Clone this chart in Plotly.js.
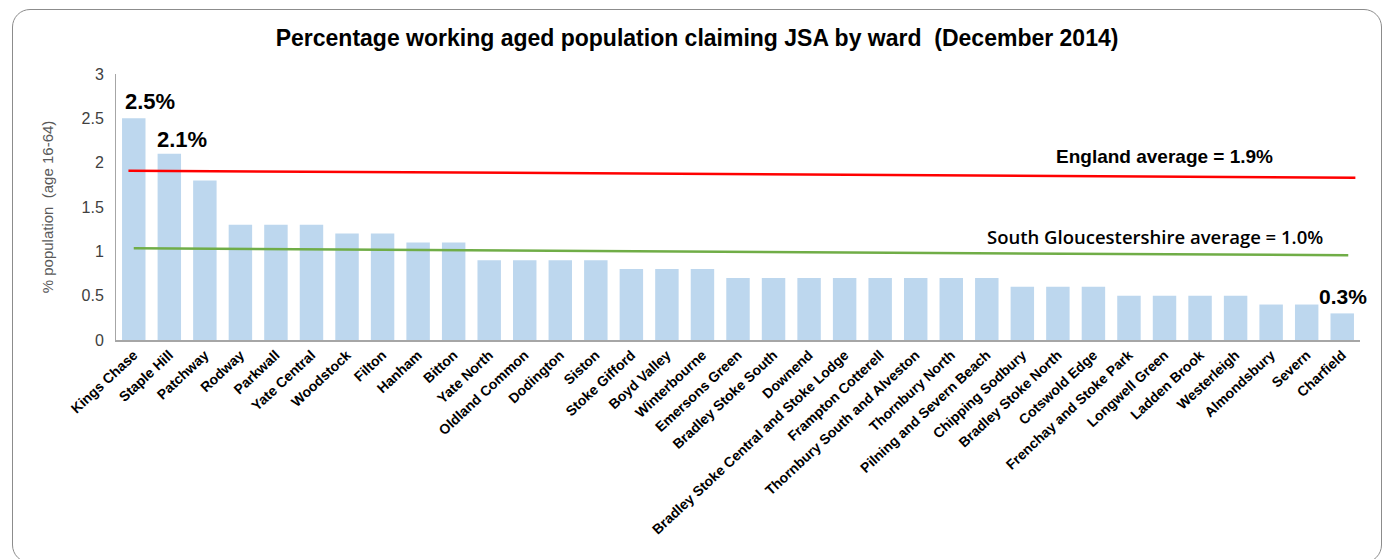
<!DOCTYPE html>
<html>
<head>
<meta charset="utf-8">
<script src="https://cdn.plot.ly/plotly-3.0.1.min.js"></script>
<style>
  html, body { margin: 0; padding: 0; background: #fff; }
  #wrap { position: relative; width: 1383px; height: 559px; overflow: hidden; }
  #chart { position: absolute; left: 0; top: 0; width: 1383px; height: 559px; }
  #frame { position: absolute; left: 12px; top: 9px; width: 1368px; height: 552px;
           border: 1.3px solid #8c8c8c; border-radius: 18px; pointer-events: none; }
</style>
</head>
<body>
<div id="wrap">
  <div id="chart"></div>
  <div id="frame"></div>
</div>
<script>
const wards = [
  "Kings Chase", "Staple Hill", "Patchway", "Rodway", "Parkwall", "Yate Central",
  "Woodstock", "Filton", "Hanham", "Bitton", "Yate North", "Oldland Common",
  "Dodington", "Siston", "Stoke Gifford", "Boyd Valley", "Winterbourne",
  "Emersons Green", "Bradley Stoke South", "Downend",
  "Bradley Stoke Central and Stoke Lodge", "Frampton Cotterell",
  "Thornbury South and Alveston", "Thornbury North", "Pilning and Severn Beach",
  "Chipping Sodbury", "Bradley Stoke North", "Cotswold Edge",
  "Frenchay and Stoke Park", "Longwell Green", "Ladden Brook", "Westerleigh",
  "Almondsbury", "Severn", "Charfield"
];
const jsaPercent = [
  2.5, 2.1, 1.8, 1.3, 1.3, 1.3,
  1.2, 1.2, 1.1, 1.1, 0.9, 0.9,
  0.9, 0.9, 0.8, 0.8, 0.8,
  0.7, 0.7, 0.7,
  0.7, 0.7,
  0.7, 0.7, 0.7,
  0.6, 0.6, 0.6,
  0.5, 0.5, 0.5, 0.5,
  0.4, 0.4, 0.3
];
// Hand-drawn average lines (start / end level as drawn in the picture)
const englandAverageLine = [1.91, 1.83];
const southGlosAverageLine = [1.035, 0.955];
const englandLabel = "England average = 1.9%";
const southGlosLabel = "South Gloucestershire average = 1.0%";
const yTicks = [0, 0.5, 1, 1.5, 2, 2.5, 3];

const lastIdx = wards.length - 1;
const FONT = "Liberation Sans, Arial, sans-serif";

const trace = {
  type: "bar",
  x: wards,
  y: jsaPercent,
  marker: { color: "#bdd7ee" },
  hoverinfo: "x+y"
};

const layout = {
  width: 1383,
  height: 559,
  margin: { l: 116, r: 23, t: 74, b: 219 },
  paper_bgcolor: "rgba(0,0,0,0)",
  plot_bgcolor: "rgba(0,0,0,0)",
  font: { family: FONT, color: "#000" },
  showlegend: false,
  bargap: 0.34,
  title: {
    text: "<b>Percentage working aged population claiming JSA by ward  (December 2014)</b>",
    font: { size: 23, color: "#000", family: FONT },
    x: 0.504, xanchor: "center",
    y: 0.932, yanchor: "middle", yref: "container"
  },
  xaxis: {
    type: "category",
    range: [-0.5, lastIdx + 0.5],
    tickangle: -43,
    tickfont: { size: 14, color: "#000", family: FONT, weight: "bold" },
    showline: true, linecolor: "#a6a6a6", linewidth: 1.5,
    ticks: "", showgrid: false, zeroline: false,
    automargin: false
  },
  yaxis: {
    range: [0, 3],
    tickvals: yTicks,
    ticktext: yTicks.map(String),
    tickfont: { size: 16, color: "#404040" },
    ticklabelstandoff: 8,
    showline: true, linecolor: "#a6a6a6", linewidth: 1,
    ticks: "", ticklen: 0,
    showgrid: false, zeroline: false,
    title: { text: "% population  (age 16-64)", font: { size: 15, color: "#595959" }, standoff: 24 },
    automargin: false
  },
  shapes: [
    {
      type: "line", xref: "x", yref: "y",
      x0: -0.15, x1: lastIdx + 0.37,
      y0: englandAverageLine[0], y1: englandAverageLine[1],
      line: { color: "#ff0000", width: 2.5 }
    },
    {
      type: "line", xref: "x", yref: "y",
      x0: 0.0, x1: lastIdx + 0.17,
      y0: southGlosAverageLine[0], y1: southGlosAverageLine[1],
      line: { color: "#70ad47", width: 2.5 }
    }
  ],
  annotations: [
    {
      x: wards[0], y: jsaPercent[0], xref: "x", yref: "y",
      text: "<b>" + jsaPercent[0].toFixed(1) + "%</b>",
      showarrow: false, xanchor: "left", yanchor: "bottom", xshift: -11, yshift: 2,
      font: { size: 22, color: "#000" }
    },
    {
      x: wards[1], y: jsaPercent[1], xref: "x", yref: "y",
      text: "<b>" + jsaPercent[1].toFixed(1) + "%</b>",
      showarrow: false, xanchor: "left", yanchor: "bottom", xshift: -14, yshift: 0,
      font: { size: 22, color: "#000" }
    },
    {
      x: wards[lastIdx], y: jsaPercent[lastIdx], xref: "x", yref: "y",
      text: "<b>" + jsaPercent[lastIdx].toFixed(1) + "%</b>",
      showarrow: false, xanchor: "center", yanchor: "bottom", xshift: 1, yshift: 3,
      font: { size: 21, color: "#000" }
    },
    {
      x: lastIdx - 5.0, y: englandAverageLine[1], xref: "x", yref: "y",
      text: "<b>" + englandLabel + "</b>",
      showarrow: false, xanchor: "center", yanchor: "bottom", yshift: 9,
      font: { size: 19, color: "#000" }
    },
    {
      x: lastIdx - 5.27, y: southGlosAverageLine[1], xref: "x", yref: "y",
      text: southGlosLabel,
      showarrow: false, xanchor: "center", yanchor: "bottom", yshift: 4,
      font: { size: 18.5, color: "#000", family: "Open Sans, sans-serif", weight: 600 }
    }
  ]
};

Plotly.newPlot("chart", [trace], layout, { displayModeBar: false, staticPlot: true });
</script>
</body>
</html>
